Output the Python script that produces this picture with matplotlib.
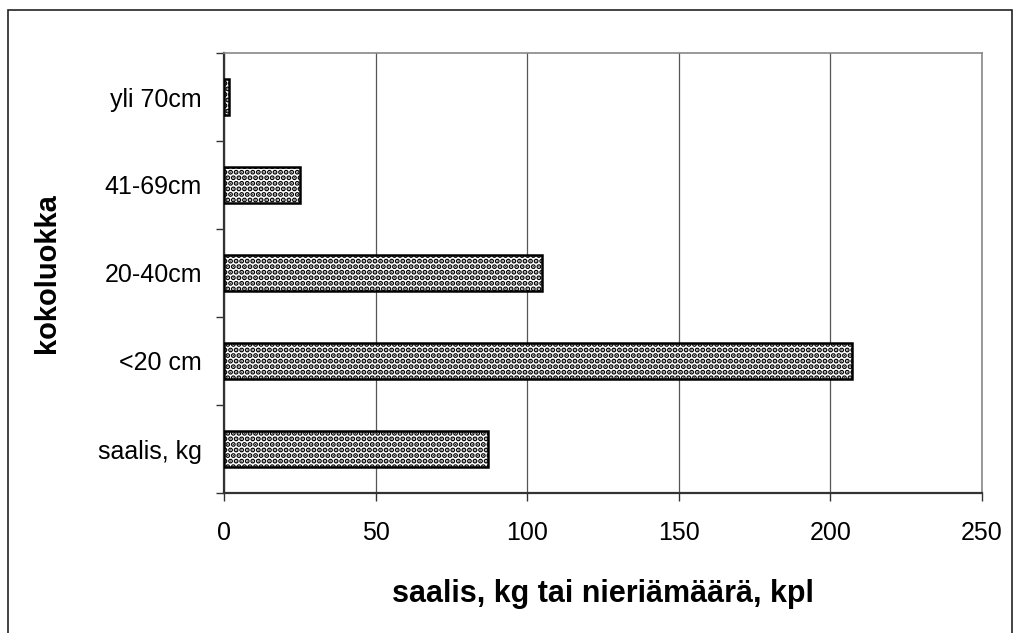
import matplotlib.pyplot as plt
import numpy as np
from matplotlib.patches import Rectangle

plt.rcParams['font.family'] = ['Liberation Sans', 'DejaVu Sans']
plt.rcParams['hatch.linewidth'] = 2.6

categories = ['saalis, kg', '<20 cm', '20-40cm', '41-69cm', 'yli 70cm']
values = [87, 207, 105, 25, 1.5]
xticks = [0, 50, 100, 150, 200, 250]

fig = plt.figure(figsize=(10.17, 6.33), dpi=100)
fig.patches.append(Rectangle((8/1017, -0.05), 1004/1017, 1 - 10/633 + 0.05,
                             transform=fig.transFigure, fill=False,
                             edgecolor='#222222', linewidth=1.2))

ax = fig.add_axes([224/1017, 1 - 493/633, (982 - 224)/1017, (493 - 53)/633])
y = np.arange(len(categories))
ax.barh(y, values, height=0.42, color='white', edgecolor='black',
        linewidth=1.8, hatch='...', zorder=3)

ax.set_xlim(0, 250)
ax.set_ylim(-0.5, len(categories) - 0.5)
ax.set_xticks(xticks)
ax.set_xticklabels([str(t) for t in xticks])
ax.grid(axis='x', color='#555555', linewidth=0.9, zorder=0)

# category boundaries as major ticks, labels on minor ticks
ax.set_yticks(np.arange(-0.5, len(categories), 1.0))
ax.set_yticklabels([])
ax.set_yticks(y, minor=True)
ax.set_yticklabels(categories, minor=True)
ax.tick_params(axis='y', which='minor', length=0, pad=16, labelsize=18)
ax.tick_params(axis='y', which='major', length=6, width=1, color='#333333')
ax.tick_params(axis='x', length=6, width=1, color='#333333', pad=14, labelsize=18)

for s in ['left', 'bottom']:
    ax.spines[s].set_color('#333333')
    ax.spines[s].set_linewidth(1.6)
for s in ['top', 'right']:
    ax.spines[s].set_color('#888888')
    ax.spines[s].set_linewidth(1.2)

ax.set_xlabel('saalis, kg tai nieriämäärä, kpl', fontsize=22, fontweight='bold')
ax.xaxis.set_label_coords(0.5, -0.195)
ax.set_ylabel('kokoluokka', fontsize=21, fontweight='bold')
ax.yaxis.set_label_coords(-0.215, 0.5)

fig.savefig('out.png', dpi=100)
